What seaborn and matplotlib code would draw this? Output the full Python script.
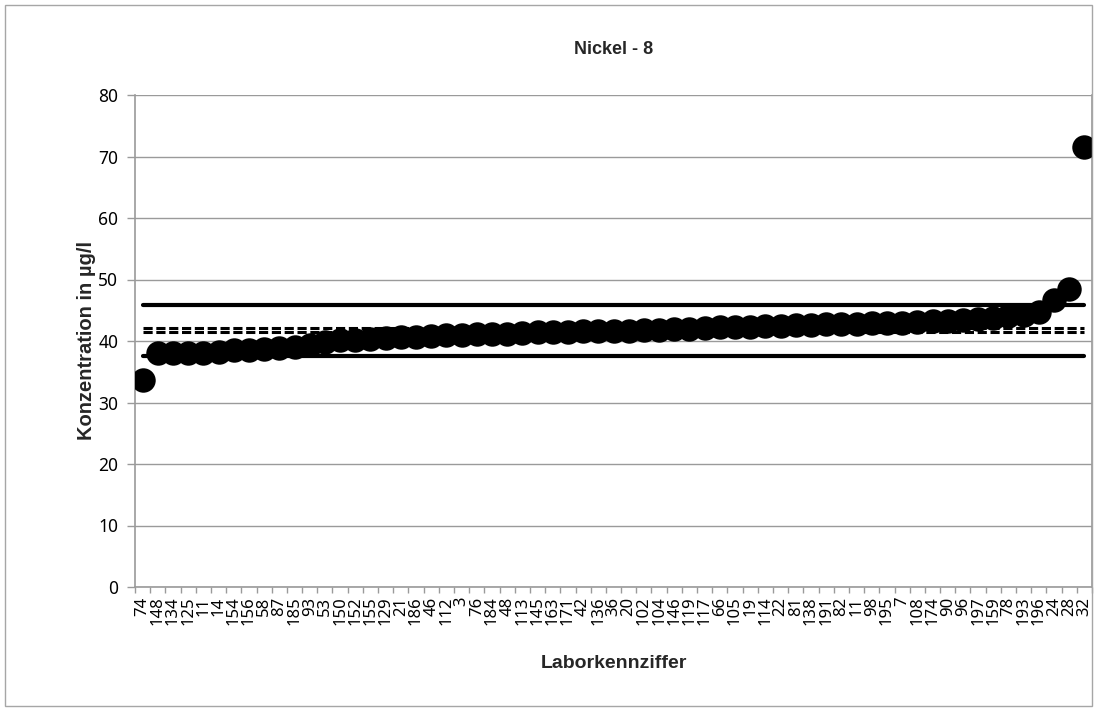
import matplotlib
matplotlib.use("Agg")
import matplotlib.pyplot as plt
import seaborn as sns
import numpy as np
import pandas as pd
from matplotlib.patches import Rectangle

# ---------------- data ----------------
labs = ["74", "148", "134", "125", "11", "14", "154", "156", "58", "87",
        "185", "93", "53", "150", "152", "155", "129", "21", "186", "46",
        "112", "3", "76", "184", "48", "113", "145", "163", "171", "42",
        "136", "36", "20", "102", "104", "146", "119", "117", "66", "105",
        "19", "114", "22", "81", "138", "191", "82", "11", "98", "195",
        "7", "108", "174", "90", "96", "197", "159", "78", "193", "196",
        "24", "28", "32"]
values = [33.6, 38.0, 38.0, 38.0, 38.1, 38.2, 38.5, 38.6, 38.7, 38.9,
          39.0, 39.3, 39.8, 40.1, 40.2, 40.3, 40.5, 40.6, 40.7, 40.8,
          40.9, 41.0, 41.1, 41.1, 41.2, 41.3, 41.4, 41.4, 41.5, 41.6,
          41.6, 41.7, 41.7, 41.8, 41.8, 41.9, 42.0, 42.1, 42.2, 42.2,
          42.3, 42.4, 42.5, 42.6, 42.6, 42.7, 42.8, 42.8, 42.9, 43.0,
          43.0, 43.1, 43.2, 43.3, 43.4, 43.6, 43.7, 44.0, 44.3, 44.7,
          46.6, 48.4, 71.6]
upper_limit = 45.9
lower_limit = 37.6
assigned_hi = 42.15
assigned_lo = 41.45
yticks = [0, 10, 20, 30, 40, 50, 60, 70, 80]

title = "Nickel - 8"
ylabel = "Konzentration in µg/l"
xlabel = "Laborkennziffer"

# ---------------- figure ----------------
sns.set_theme(style="white")
plt.rcParams["font.family"] = ["Noto Sans", "DejaVu Sans"]
BOLD_FAM = ["Liberation Sans", "DejaVu Sans"]

W, H = 1111, 708
fig = plt.figure(figsize=(W / 100, H / 100), dpi=100)
fig.patch.set_facecolor("white")

L, R, T, B = 135, 1092, 95, 587
ax = fig.add_axes([L / W, 1 - B / H, (R - L) / W, (B - T) / H])

n = len(values)
pos = np.arange(n)
df = pd.DataFrame({"pos": pos, "val": values, "lab": labs})
ref = pd.DataFrame({"pos": pos})
ref["up"] = upper_limit
ref["lo"] = lower_limit
ref["ah"] = assigned_hi
ref["al"] = assigned_lo

sns.lineplot(data=ref, x="pos", y="up", ax=ax, color="black", linewidth=3.0,
             solid_capstyle="round", zorder=3)
sns.lineplot(data=ref, x="pos", y="lo", ax=ax, color="black", linewidth=3.0,
             solid_capstyle="round", zorder=3)
sns.lineplot(data=ref, x="pos", y="ah", ax=ax, color="black", linewidth=2.2,
             zorder=3).lines[-1].set_dashes([3.0, 1.2])
sns.lineplot(data=ref, x="pos", y="al", ax=ax, color="black", linewidth=2.2,
             zorder=3).lines[-1].set_dashes([3.0, 1.2])

sns.scatterplot(data=df, x="pos", y="val", ax=ax, color="black", s=310,
                edgecolor="black", linewidth=0, zorder=4, legend=False)

ax.set_xlim(-0.5, n - 0.5)
ax.set_ylim(0, 80)
ax.set_yticks(yticks)
ax.set_yticklabels([str(v) for v in yticks])
ax.set_xticks(pos)
ax.set_xticklabels(labs, rotation=90, fontsize=12)
ax.set_xticks(np.arange(n + 1) - 0.5, minor=True)
ax.tick_params(axis="x", which="major", length=0, pad=7)
ax.tick_params(axis="x", which="minor", length=4, width=1, color="#9a9a9a",
               direction="out", bottom=True)
ax.tick_params(axis="y", which="major", length=6, width=1, color="#9a9a9a",
               direction="out", left=True, labelsize=12.5, pad=6)
for lab in ax.get_yticklabels() + ax.get_xticklabels():
    lab.set_color("black")

ax.grid(axis="y", color="#9a9a9a", linewidth=1.0)
ax.grid(axis="x", visible=False)
ax.set_axisbelow(True)
for s in ["left", "bottom", "right"]:
    ax.spines[s].set_visible(True)
    ax.spines[s].set_color("#9a9a9a")
    ax.spines[s].set_linewidth(1.2)
ax.spines["top"].set_visible(False)
ax.set_xlabel("")
ax.set_ylabel("")

cx = (L + R) / 2 / W
fig.text(cx, 1 - 50 / H, title, ha="center", va="center",
         fontsize=13, fontweight="bold", family=BOLD_FAM)
fig.text(cx, 1 - 664 / H, xlabel, ha="center", va="center",
         fontsize=14, fontweight="bold", family=BOLD_FAM)
fig.text(87 / W, 1 - (T + B) / 2 / H, ylabel, ha="center", va="center",
         rotation=90, fontsize=14.5, fontweight="bold", family=BOLD_FAM)

fig.patches.append(Rectangle((5 / W, 2 / H), (R - 5) / W, (H - 7) / H,
                             transform=fig.transFigure, fill=False,
                             edgecolor="#a6a6a6", linewidth=1.0))

fig.savefig("out.png", dpi=100, facecolor="white")
